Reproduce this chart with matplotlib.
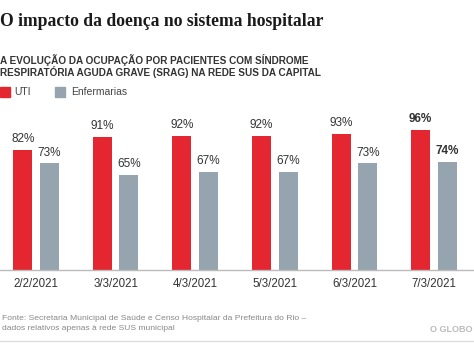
import matplotlib
matplotlib.use("Agg")
import matplotlib.pyplot as plt
from matplotlib.patches import Rectangle
import numpy as np

dates = ["2/2/2021", "3/3/2021", "4/3/2021", "5/3/2021", "6/3/2021", "7/3/2021"]
uti = [82, 91, 92, 92, 93, 96]
enfermarias = [73, 65, 67, 67, 73, 74]

RED = "#e3262f"
GRAY = "#95a4ae"
W, H = 474, 345

fig = plt.figure(figsize=(W / 100, H / 100), dpi=100)
fig.patch.set_facecolor("white")

def fx(x):
    return x / W

def fy(y):
    return 1 - y / H

# Axes
ax = fig.add_axes([0, fy(270), 1, 146 / H])
x = np.arange(len(dates))
off = 0.167
bw = 0.24
b1 = ax.bar(x - off, uti, bw, color=RED)
b2 = ax.bar(x + off, enfermarias, bw, color=GRAY)
ax.set_xlim(-36 / 79.6, (W - 36) / 79.6)
ax.set_ylim(0, 100)
for s in ["top", "right", "left"]:
    ax.spines[s].set_visible(False)
ax.spines["bottom"].set_color("#bbbbbb")
ax.spines["bottom"].set_linewidth(1.0)
ax.set_yticks([])
ax.set_xticks(x)
ax.set_xticklabels(dates, fontsize=8.3, color="#333333", family="Liberation Sans")
ax.tick_params(axis="x", length=0, pad=6)

n = len(dates)
for i, (r, v) in enumerate(zip(b1, uti)):
    ax.annotate(f"{v}%", (r.get_x() + r.get_width() / 2, v), xytext=(0, 3.5),
                textcoords="offset points", ha="center", va="bottom",
                fontsize=8.5, color="#333333", family="Liberation Sans",
                fontweight="bold" if i == n - 1 else "normal")
for i, (r, v) in enumerate(zip(b2, enfermarias)):
    ax.annotate(f"{v}%", (r.get_x() + r.get_width() / 2, v), xytext=(0, 3.5),
                textcoords="offset points", ha="center", va="bottom",
                fontsize=8.5, color="#333333", family="Liberation Sans",
                fontweight="bold" if i == n - 1 else "normal")

# Title
fig.text(fx(0), fy(22), "O impacto da doença no sistema hospitalar", ha="left", va="center",
         fontsize=12.7, fontweight="bold", family="Liberation Serif", color="#1a1a1a")
fig.text(fx(0), fy(60), "A EVOLUÇÃO DA OCUPAÇÃO POR PACIENTES COM SÍNDROME", ha="left",
         va="center", fontsize=7.2, fontweight="bold", family="Liberation Sans", color="#333333")
fig.text(fx(0), fy(72), "RESPIRATÓRIA AGUDA GRAVE (SRAG) NA REDE SUS DA CAPITAL", ha="left",
         va="center", fontsize=7.2, fontweight="bold", family="Liberation Sans", color="#333333")

# Legend
fig.add_artist(Rectangle((fx(0), fy(97)), 10 / W, 10 / H, transform=fig.transFigure, color=RED))
fig.text(fx(14), fy(92), "UTI", ha="left", va="center", fontsize=7.5,
         family="Liberation Sans", color="#444444")
fig.add_artist(Rectangle((fx(55), fy(97)), 10 / W, 10 / H, transform=fig.transFigure, color=GRAY))
fig.text(fx(71), fy(92), "Enfermarias", ha="left", va="center", fontsize=7.5,
         family="Liberation Sans", color="#444444")

# Footer
fig.text(fx(2), fy(318), "Fonte: Secretaria Municipal de Saúde e Censo Hospitalar da Prefeitura do Rio –",
         ha="left", va="center", fontsize=6.1, family="Liberation Sans", color="#888888")
fig.text(fx(2), fy(328), "dados relativos apenas à rede SUS municipal",
         ha="left", va="center", fontsize=6.1, family="Liberation Sans", color="#888888")
fig.text(fx(472), fy(330), "O GLOBO", ha="right", va="center", fontsize=6.5, fontweight="bold",
         family="Liberation Sans", color="#bbbbbb")
fig.add_artist(plt.Line2D([0, 1], [fy(341), fy(341)], transform=fig.transFigure,
                          color="#dddddd", linewidth=1))

fig.savefig("out.png", dpi=100)
